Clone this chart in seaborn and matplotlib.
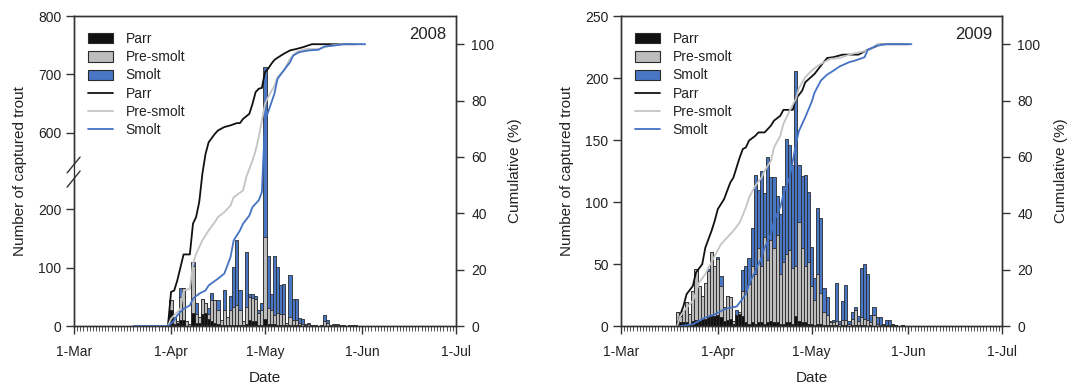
import numpy as np
import pandas as pd
import matplotlib
matplotlib.use("Agg")
import matplotlib.pyplot as plt
import seaborn as sns
from matplotlib.patches import Patch
from matplotlib.lines import Line2D

sns.set_theme(style="ticks")
plt.rcParams['font.family'] = ['Liberation Sans', 'DejaVu Sans']

# ---------------- 2008: daily catches (day = days after 1 March) ----------------
days_2008 = list(range(31, 91))
parr_2008 = [27, 4, 6, 10, 10, 0, 0, 22, 5, 6, 20, 22, 12, 8, 5, 3, 2, 2, 1, 2,
             2, 1, 2, 1, 3, 10, 8, 8, 2, 2, 12, 4, 3, 3, 2, 2, 2, 1, 1, 1,
             1, 1, 0, 0, 0, 0, 0, 0, 0, 0, 0, 0, 0, 0, 0, 0, 0, 0, 0, 0]
presmolt_2008 = [18, 11, 2, 40, 55, 8, 3, 80, 15, 9, 27, 18, 8, 37, 40, 25, 8, 25, 14, 25,
                 30, 35, 25, 7, 30, 40, 40, 38, 20, 26, 140, 26, 24, 16, 20, 18, 18, 4, 15, 10,
                 10, 4, 4, 2, 3, 1, 1, 0, 1, 8, 6, 1, 1, 1, 1, 1, 0, 1, 1, 1]
smolt_2008 = [0, 0, 0, 15, 0, 0, 0, 8, 20, 0, 0, 0, 10, 12, 0, 17, 0, 35, 0, 25,
              69, 111, 34, 0, 94, 4, 6, 6, 5, 12, 560, 90, 28, 101, 79, 50, 52, 0, 71, 36,
              36, 9, 8, 1, 3, 0, 1, 0, 0, 11, 5, 0, 3, 3, 0, 1, 0, 0, 0, 0]

# 2008: cumulative percentages
cum_parr_day_2008 = [30, 31, 32, 33, 35, 37, 38, 39, 40, 41, 42, 43, 45, 46, 48, 50, 52, 53, 54,
                     56, 57, 58, 59, 60, 61, 62, 63, 64, 65, 67, 69, 71, 73, 76, 90]
cum_parr_2008 = [0, 12.1, 12.6, 16.2, 25.4, 25.4, 36.3, 38.7, 44.0, 54.0, 61.0, 65.2, 68.2, 69.4,
                 70.6, 71.2, 72.0, 72.0, 73.5, 75.3, 78.8, 83.0, 84.2, 84.5, 90.1, 91.3, 93.0,
                 94.4, 95.2, 96.6, 97.8, 98.3, 98.9, 100, 100]
cum_pre_day_2008 = [30, 31, 32, 34, 35, 37, 38, 39, 40, 41, 43, 45, 46, 48, 50, 51, 54, 55, 57,
                    58, 59, 60, 61, 62, 64, 65, 67, 69, 71, 74, 78, 80, 82, 85, 92]
cum_pre_2008 = [0, 2.6, 3.8, 6.1, 12.6, 13.2, 22.1, 25.6, 28.0, 30.4, 33.9, 36.9, 38.7, 40.4,
                42.8, 45.7, 48.1, 52.8, 58.7, 62.3, 67.0, 72.9, 78.8, 81.2, 85.3, 88.3, 90.7,
                94.8, 97.2, 98.3, 98.3, 98.9, 99.5, 100, 100]
cum_smolt_day_2008 = [19, 30, 31, 32, 33, 34, 35, 37, 38, 40, 42, 43, 46, 48, 49, 50, 51, 53,
                      54, 56, 57, 59, 60, 61, 62, 64, 65, 67, 69, 70, 72, 75, 78, 80, 83, 86, 93]
cum_smolt_2008 = [0, 0, 0.8, 2.0, 3.8, 5.0, 6.1, 7.3, 9.7, 11.5, 12.6, 14.4, 16.8, 18.6, 21.5,
                  24.5, 30.4, 33.9, 36.3, 39.2, 42.2, 44.6, 47.5, 72.9, 75.9, 82.4, 87.7, 90.7,
                  93.6, 96.0, 97.2, 97.8, 98.0, 99.2, 99.5, 100, 100]

# ---------------- 2009: daily catches ----------------
days_2009 = list(range(18, 91))
parr_2009 = [4, 3, 3, 3, 2, 4, 5, 5, 6, 6, 7, 8, 8, 9, 7, 4, 5, 6, 2, 9,
             10, 8, 3, 2, 3, 2, 3, 3, 2, 3, 4, 3, 3, 2, 2, 3, 3, 2, 8, 4,
             3, 3, 2, 2, 1, 2, 2, 1, 1, 1, 1, 1, 0, 1, 1, 0, 1, 1, 1, 1,
             1, 0, 1, 0, 0, 0, 0, 0, 0, 1, 1, 0, 1]
presmolt_2009 = [7, 5, 9, 16, 8, 24, 41, 27, 18, 29, 37, 52, 40, 45, 25, 11, 19, 17, 2, 0,
                 1, 20, 25, 32, 45, 40, 60, 45, 70, 50, 65, 60, 70, 40, 50, 55, 58, 45, 40, 80,
                 60, 45, 50, 30, 20, 40, 25, 10, 8, 2, 2, 3, 2, 4, 4, 2, 5, 12, 3, 6,
                 5, 5, 2, 9, 2, 1, 1, 1, 1, 1, 0, 0, 0]
smolt_2009 = [0, 0, 0, 0, 0, 0, 0, 0, 0, 0, 2, 0, 0, 2, 8, 0, 0, 0, 0, 4,
              0, 17, 20, 21, 31, 80, 47, 77, 35, 83, 51, 57, 32, 48, 61, 93, 85, 83, 158, 46,
              58, 74, 56, 32, 18, 53, 60, 20, 14, 1, 2, 31, 2, 15, 28, 2, 5, 2, 4, 40,
              44, 37, 6, 6, 5, 6, 1, 4, 4, 0, 0, 0, 0]

cum_parr_day_2009 = [18, 19, 20, 21, 23, 24, 26, 27, 29, 30, 31, 33, 34, 35, 36, 38, 39, 40, 41,
                     43, 44, 46, 48, 49, 51, 52, 55, 56, 58, 59, 62, 64, 66, 68, 71, 76, 79, 81,
                     83, 92]
cum_parr_2009 = [0, 4.1, 7.1, 11.3, 14.2, 19.0, 21.9, 27.8, 33.8, 37.3, 41.5, 45.0, 48.0, 50.9,
                 52.7, 59.8, 62.8, 63.4, 65.8, 67.5, 68.7, 68.7, 71.1, 72.9, 74.6, 76.7, 76.7,
                 80.6, 83.5, 86.5, 89.5, 92.4, 95.1, 95.4, 96.3, 96.3, 98.0, 98.9, 100, 100]
cum_pre_day_2009 = [18, 19, 21, 23, 24, 25, 27, 28, 30, 32, 34, 35, 36, 38, 40, 41, 43, 45, 46,
                    48, 49, 51, 52, 54, 56, 57, 59, 61, 63, 65, 67, 70, 74, 78, 80, 82, 92]
cum_pre_2009 = [0, 3.6, 6.5, 8.9, 11.8, 15.4, 18.4, 20.7, 24.9, 29.0, 31.4, 32.6, 33.8, 36.7,
                42.1, 45.6, 49.8, 52.7, 55.1, 58.6, 63.4, 67.5, 71.7, 76.4, 80.6, 84.5, 88.3,
                90.6, 92.4, 93.6, 94.8, 95.1, 96.6, 97.5, 98.3, 100, 100]
cum_smolt_day_2009 = [19, 23, 25, 27, 30, 32, 33, 35, 37, 38, 40, 41, 43, 45, 46, 48, 49, 51,
                      52, 54, 55, 56, 57, 59, 61, 62, 64, 66, 68, 70, 73, 75, 78, 79, 82, 85, 93]
cum_smolt_2009 = [0, 0.6, 1.8, 3.0, 4.1, 5.3, 5.9, 6.5, 6.9, 8.3, 11.3, 14.8, 19.5, 24.3, 27.8,
                  32.6, 37.3, 42.1, 46.8, 52.7, 58.6, 64.6, 69.3, 74.1, 79.4, 82.9, 87.1, 89.2,
                  90.6, 92.1, 93.6, 94.2, 95.4, 98.0, 99.5, 100, 100]

stage_labels = ["Parr", "Pre-smolt", "Smolt"]
month_ticks = [0, 31, 61, 92, 122]
month_labels = ["1-Mar", "1-Apr", "1-May", "1-Jun", "1-Jul"]

# colours
BAR_COLORS = ["#111111", "#bdbdbd", "#4a76c6"]
LINE_COLORS = ["#111111", "#c4c4c4", "#4472c4"]
EDGE = "#2a2a2a"
AX_COL = "#333333"
TXT_COL = "#222222"

# broken y scale for 2008 (gap between LO and HI)
LO, HI, EPS = 265.0, 535.0, 1e-3


def brk_fwd(y):
    y = np.asarray(y, dtype=float)
    return np.where(y <= LO, y,
                    np.where(y >= HI, y - (HI - LO) * (1 - EPS), LO + (y - LO) * EPS))


def brk_inv(u):
    u = np.asarray(u, dtype=float)
    top = LO + (HI - LO) * EPS
    return np.where(u <= LO, u,
                    np.where(u >= top, u + (HI - LO) * (1 - EPS), LO + (u - LO) / EPS))


fig = plt.figure(figsize=(10.77, 3.87), dpi=100)
ax_a = fig.add_axes([0.0687, 0.1576, 0.3547, 0.801])
ax_b = fig.add_axes([0.5766, 0.1576, 0.3538, 0.801])


def draw_panel(ax, days, parr, pre, smolt, cum, year, yticks, ylim, broken):
    days = np.asarray(days)
    parr = np.asarray(parr, float)
    pre = np.asarray(pre, float)
    smolt = np.asarray(smolt, float)
    if broken:
        ax.set_yscale("function", functions=(brk_fwd, brk_inv))
    # stacked bars: total (smolt on top), then parr+pre-smolt, then parr
    layers = [parr + pre + smolt, parr + pre, parr]
    cols = [BAR_COLORS[2], BAR_COLORS[1], BAR_COLORS[0]]
    for vals, col in zip(layers, cols):
        df = pd.DataFrame({"day": days, "n": vals})
        sns.histplot(data=df, x="day", weights="n", binwidth=1,
                     binrange=(days[0] - 0.5, days[-1] + 0.5), ax=ax, color=col,
                     edgecolor=EDGE, linewidth=0.6, alpha=1, element="bars",
                     fill=True, shrink=1)
    ax.set_xlim(0, 122)
    ax.set_ylim(*ylim)
    ax.set_yticks(yticks)
    ax.set_yticklabels([str(t) for t in yticks])
    ax.set_xticks(month_ticks)
    ax.set_xticklabels(month_labels)
    ax.set_xticks(np.arange(0, 123, 1), minor=True)
    ax.tick_params(axis="x", which="major", length=6, width=1.0, color=AX_COL,
                   labelsize=10, labelcolor=TXT_COL, pad=8, direction="out")
    ax.tick_params(axis="x", which="minor", length=3.5, width=0.6, color=AX_COL,
                   direction="out")
    ax.tick_params(axis="y", which="major", length=6, width=1.0, color=AX_COL,
                   labelsize=10, labelcolor=TXT_COL, pad=3, direction="out")
    ax.tick_params(axis="y", which="minor", length=0)
    for s in ax.spines.values():
        s.set_color(AX_COL)
        s.set_linewidth(1.0)
    ax.set_xlabel("Date", fontsize=11, color=TXT_COL, labelpad=8)
    ax.set_ylabel("Number of captured trout", fontsize=11, color=TXT_COL, labelpad=8)

    ax2 = ax.twinx()
    for (dx, py), col in zip(cum, LINE_COLORS):
        ldf = pd.DataFrame({"day": dx, "pct": py})
        sns.lineplot(data=ldf, x="day", y="pct", ax=ax2, color=col, linewidth=1.3,
                     estimator=None, sort=False, legend=False)
    ax2.set_ylim(0, 110)
    ax2.set_yticks([0, 20, 40, 60, 80, 100])
    ax2.tick_params(axis="y", length=6, width=1.0, color=AX_COL, labelsize=10,
                    labelcolor=TXT_COL, pad=5, direction="out")
    for s in ax2.spines.values():
        s.set_color(AX_COL)
        s.set_linewidth(1.0)
    ax2.set_ylabel("Cumulative (%)", fontsize=11, color=TXT_COL, labelpad=10)
    ax2.set_xlim(0, 122)

    ax2.text(0.975, 0.965, year, transform=ax2.transAxes, ha="right", va="top",
             fontsize=12, color=TXT_COL)

    handles = [Patch(facecolor=c, edgecolor=EDGE, linewidth=0.8) for c in BAR_COLORS]
    handles += [Line2D([0], [0], color=c, linewidth=1.3) for c in LINE_COLORS]
    ax2.legend(handles, stage_labels * 2, loc="upper left",
               bbox_to_anchor=(0.015, 0.975), frameon=False, fontsize=10,
               handlelength=1.8, handleheight=0.75, handletextpad=0.9,
               labelspacing=0.3, borderaxespad=0.2,
               labelcolor=TXT_COL)

    if broken:
        kw = dict(transform=ax.transAxes, color=AX_COL, linewidth=1.0, clip_on=False,
                  zorder=10)
        ax.plot([0, 0], [0.478, 0.518], transform=ax.transAxes, color="white",
                linewidth=2.5, clip_on=False, zorder=9)
        ax.plot([-0.018, 0.016], [0.494, 0.545], **kw)
        ax.plot([-0.018, 0.016], [0.448, 0.500], **kw)
    return ax2


draw_panel(ax_a, days_2008, parr_2008, presmolt_2008, smolt_2008,
           [(cum_parr_day_2008, cum_parr_2008), (cum_pre_day_2008, cum_pre_2008),
            (cum_smolt_day_2008, cum_smolt_2008)],
           "2008", [0, 100, 200, 600, 700, 800], (0, 800), True)
draw_panel(ax_b, days_2009, parr_2009, presmolt_2009, smolt_2009,
           [(cum_parr_day_2009, cum_parr_2009), (cum_pre_day_2009, cum_pre_2009),
            (cum_smolt_day_2009, cum_smolt_2009)],
           "2009", [0, 50, 100, 150, 200, 250], (0, 250), False)

fig.savefig("out.png", dpi=100)
